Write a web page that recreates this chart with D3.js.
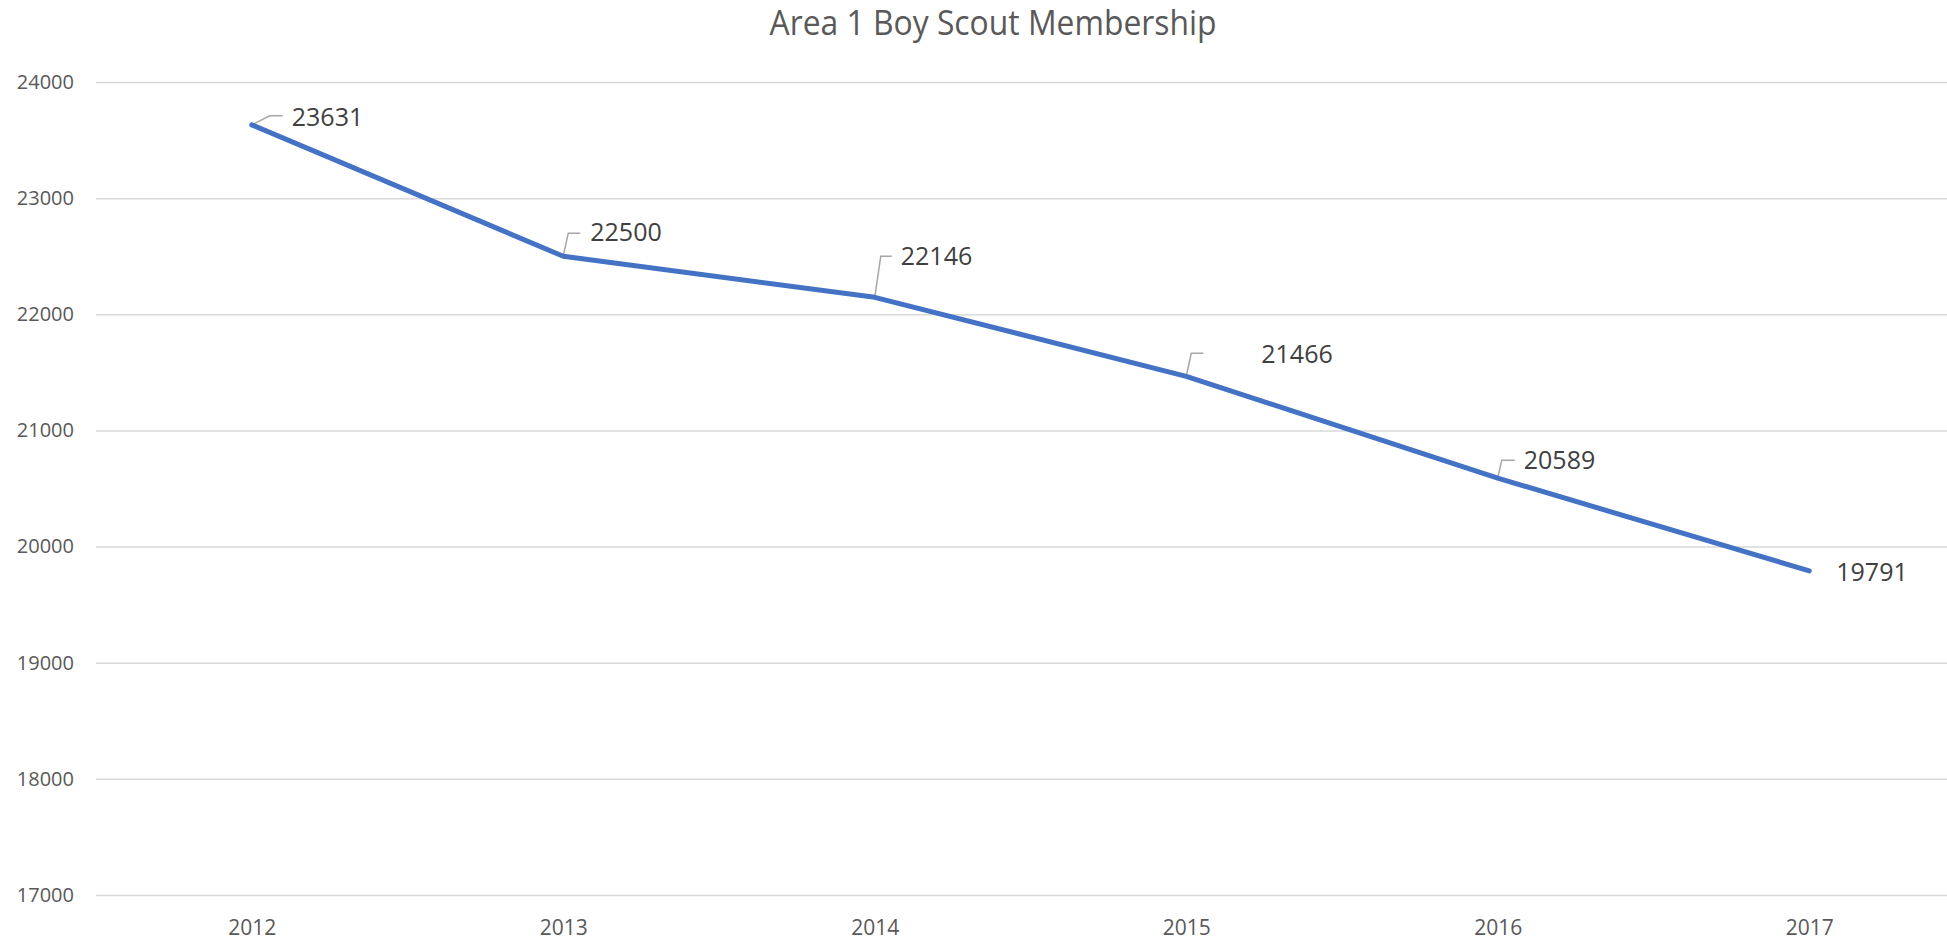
<!DOCTYPE html>
<html>
<head>
<meta charset="utf-8">
<script src="https://cdn.jsdelivr.net/npm/d3@7"></script>
<style>
  body { margin: 0; background: #fff; }
  svg { display: block; font-family: "Open Sans", sans-serif; }
</style>
</head>
<body>
<div id="chart"></div>
<script>
// data
const years = ["2012", "2013", "2014", "2015", "2016", "2017"];
const members = [23631, 22500, 22146, 21466, 20589, 19791];
const yTicks = [17000, 18000, 19000, 20000, 21000, 22000, 23000, 24000];

// where each data label sits relative to its point (dragged labels in the original)
const labelPos = [
  {dx: 40, dy: -8,  leader: [[18, -9], [31, -9]]},
  {dx: 27, dy: -24, leader: [[5, -23], [17, -23]]},
  {dx: 26, dy: -41, leader: [[6, -41], [17, -41]]},
  {dx: 75, dy: -22, leader: [[5, -23], [17, -23]]},
  {dx: 26, dy: -18, leader: [[4, -18], [17, -18]]},
  {dx: 27, dy: 1,   leader: null}
];

const width = 1947, height = 940;
const plotLeft = 96, plotTop = 82, plotBottom = 895;

const svg = d3.select("#chart").append("svg")
    .attr("width", width)
    .attr("height", height);

const x = d3.scalePoint()
    .domain(years)
    .range([plotLeft, plotLeft + 6 * 311.5])
    .padding(0.5);

const y = d3.scaleLinear()
    .domain([17000, 24000])
    .range([plotBottom, plotTop]);

// title
svg.append("text")
    .attr("x", 993)
    .attr("y", 35)
    .attr("text-anchor", "middle")
    .attr("font-size", 34)
    .attr("fill", "#595959")
    .attr("textLength", 447)
    .attr("lengthAdjust", "spacingAndGlyphs")
    .text("Area 1 Boy Scout Membership");

// y axis + gridlines
const yAxis = svg.append("g")
    .attr("transform", "translate(" + plotLeft + ",0)")
    .call(d3.axisLeft(y).tickValues(yTicks).tickSize(-(width - plotLeft)).tickPadding(22).tickFormat(d3.format("d")));
yAxis.select(".domain").remove();
yAxis.selectAll(".tick line").attr("stroke", "#d9d9d9").attr("stroke-width", 1.5);
yAxis.selectAll(".tick text")
    .attr("font-size", 20)
    .attr("font-family", "Open Sans, sans-serif")
    .attr("fill", "#595959");

// x axis
const xAxis = svg.append("g")
    .attr("transform", "translate(0," + plotBottom + ")")
    .call(d3.axisBottom(x).tickSize(0).tickPadding(25));
xAxis.select(".domain").remove();
xAxis.selectAll(".tick text")
    .attr("font-size", 21)
    .attr("font-family", "Open Sans, sans-serif")
    .attr("fill", "#595959");

const pts = years.map((yr, i) => ({year: yr, value: members[i], pos: labelPos[i]}));

// leader lines
svg.append("g").selectAll("path")
    .data(pts.filter(d => d.pos.leader))
    .join("path")
    .attr("fill", "none")
    .attr("stroke", "#a6a6a6")
    .attr("stroke-width", 1.5)
    .attr("d", d => {
        const px = x(d.year), py = y(d.value);
        const l = d.pos.leader;
        return "M" + px + "," + py +
            "L" + (px + l[0][0]) + "," + (py + l[0][1]) +
            "L" + (px + l[1][0]) + "," + (py + l[1][1]);
    });

// series line
const line = d3.line()
    .x(d => x(d.year))
    .y(d => y(d.value));

svg.append("path")
    .datum(pts)
    .attr("fill", "none")
    .attr("stroke", "#4472c4")
    .attr("stroke-width", 5)
    .attr("stroke-linejoin", "round")
    .attr("stroke-linecap", "round")
    .attr("d", line);

// data labels
svg.append("g").selectAll("text")
    .data(pts)
    .join("text")
    .attr("x", d => x(d.year) + d.pos.dx)
    .attr("y", d => y(d.value) + d.pos.dy)
    .attr("dy", "0.35em")
    .attr("font-size", 25)
    .attr("fill", "#404040")
    .text(d => d.value);
</script>
</body>
</html>
